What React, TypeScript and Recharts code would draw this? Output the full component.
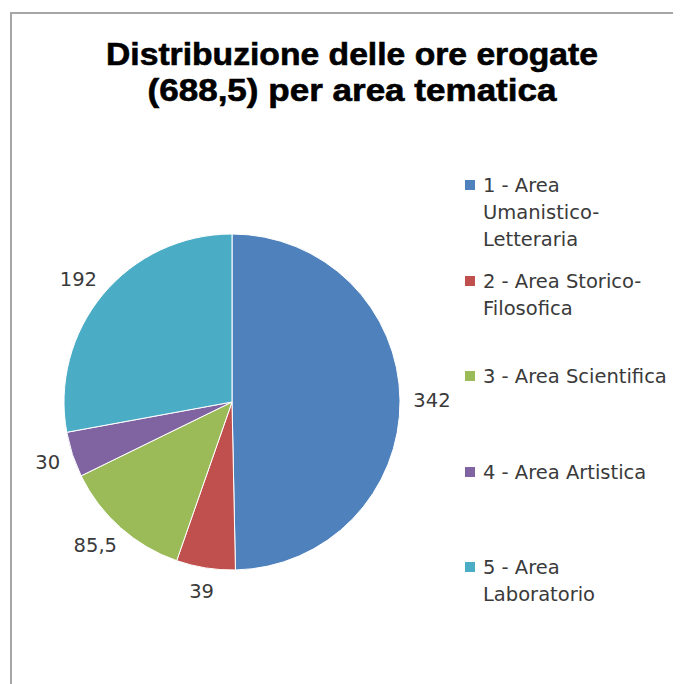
import { Cell, Legend, Pie, PieChart } from "recharts";

const areaNames = [
  "1 - Area Umanistico-Letteraria",
  "2 - Area Storico-Filosofica",
  "3 - Area Scientifica",
  "4 - Area Artistica",
  "5 - Area Laboratorio",
];
const legendLines = [
  ["1 - Area", "Umanistico-", "Letteraria"],
  ["2 - Area Storico-", "Filosofica"],
  ["3 - Area Scientifica"],
  ["4 - Area Artistica"],
  ["5 - Area", "Laboratorio"],
];
const hours = [342, 39, 85.5, 30, 192];
const hourLabels = ["342", "39", "85,5", "30", "192"];
const colors = ["#4F81BD", "#C0504D", "#9BBB59", "#8064A2", "#4BACC6"];

const titleLines = ["Distribuzione delle ore erogate", "(688,5) per area tematica"];

const FONT = "'DejaVu Sans', Verdana, sans-serif";
const RADIAN = Math.PI / 180;

const chartData = areaNames.map((name, i) => ({ name, value: hours[i] }));

function renderLabel(props: any) {
  const { cx, cy, midAngle, outerRadius, index } = props;
  const cos = Math.cos(-midAngle * RADIAN);
  const sin = Math.sin(-midAngle * RADIAN);
  const text = hourLabels[index];
  const halfW = (text.length * 12) / 2;
  const r = outerRadius + 14;
  const x = cx + r * cos + halfW * cos;
  const y = cy + r * sin + 10 * sin;
  return (
    <text
      x={x}
      y={y}
      textAnchor="middle"
      dominantBaseline="central"
      fill="#3a3a3a"
      fontSize={19.5}
      fontFamily={FONT}
    >
      {text}
    </text>
  );
}

function LegendBox({ payload }: any) {
  return (
    <div style={{ fontFamily: FONT, fontSize: 19.5, color: "#3a3a3a" }}>
      {(payload || []).map((entry: any, i: number) => (
        <div key={i} style={{ height: 95.5, display: "flex", alignItems: "flex-start" }}>
          <div
            style={{
              width: 10,
              height: 10,
              marginTop: 8,
              marginRight: 8,
              background: entry.color,
              flex: "none",
            }}
          />
          <div style={{ lineHeight: "27px", whiteSpace: "nowrap" }}>
            {legendLines[i].map((line) => (
              <div key={line}>{line}</div>
            ))}
          </div>
        </div>
      ))}
    </div>
  );
}

export default function App() {
  return (
    <div style={{ position: "relative", width: 673, height: 676, overflow: "hidden", background: "#fff" }}>
      <div
        style={{
          position: "absolute",
          left: 2,
          top: 4,
          width: 720,
          height: 720,
          border: "2px solid #a6a6a6",
        }}
      />
      <svg width={673} height={130} style={{ position: "absolute", left: 0, top: 0 }}>
        <text
          x={344}
          y={57}
          textAnchor="middle"
          fontFamily="'Liberation Sans', Arial, sans-serif"
          fontWeight="bold"
          fontSize={31}
          textLength={492}
          lengthAdjust="spacingAndGlyphs"
          fill="#000"
          stroke="#000"
          strokeWidth={0.6}
        >
          {titleLines[0]}
        </text>
        <text
          x={344}
          y={93}
          textAnchor="middle"
          fontFamily="'Liberation Sans', Arial, sans-serif"
          fontWeight="bold"
          fontSize={31}
          textLength={409}
          lengthAdjust="spacingAndGlyphs"
          fill="#000"
          stroke="#000"
          strokeWidth={0.6}
        >
          {titleLines[1]}
        </text>
      </svg>
      <div style={{ position: "absolute", left: 0, top: 0 }}>
        <PieChart width={673} height={676}>
          <Pie
            data={chartData}
            dataKey="value"
            nameKey="name"
            cx={219}
            cy={389}
            outerRadius={168}
            startAngle={90}
            endAngle={-270}
            stroke="#fff"
            strokeWidth={1}
            label={renderLabel}
            labelLine={false}
            isAnimationActive={false}
          >
            {chartData.map((d, i) => (
              <Cell key={d.name} fill={colors[i]} />
            ))}
          </Pie>
          <Legend
            layout="vertical"
            verticalAlign="top"
            align="right"
            content={<LegendBox />}
            wrapperStyle={{ left: 457, top: 164, width: 215, right: "auto" }}
          />
        </PieChart>
      </div>
    </div>
  );
}
